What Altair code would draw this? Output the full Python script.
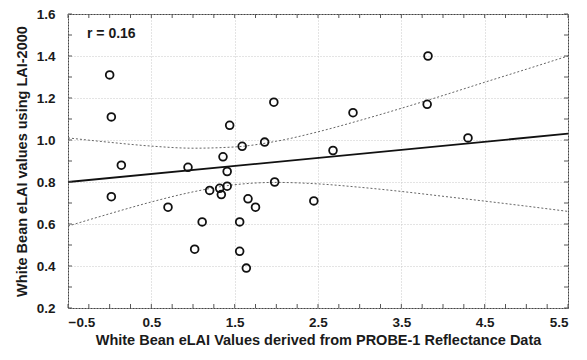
import altair as alt
import pandas as pd

# Scatter data
x_vals = [0.00, 0.02, 0.14, 0.02, 0.70, 0.94, 1.02, 1.11, 1.20, 1.32,
          1.34, 1.36, 1.41, 1.41, 1.44, 1.56, 1.56, 1.59, 1.64, 1.66,
          1.75, 1.86, 1.97, 1.98, 2.45, 2.68, 2.92, 3.81, 3.82, 4.30]
y_vals = [1.31, 1.11, 0.88, 0.73, 0.68, 0.87, 0.48, 0.61, 0.76, 0.77,
          0.74, 0.92, 0.85, 0.78, 1.07, 0.61, 0.47, 0.97, 0.39, 0.72,
          0.68, 0.99, 1.18, 0.80, 0.71, 0.95, 1.13, 1.17, 1.40, 1.01]

# Regression line endpoints
reg_x = [-0.5, 5.5]
reg_y = [0.80, 1.03]

# Confidence band
band_x = [-0.5, 0.0, 0.5, 1.0, 1.5, 2.0, 2.5, 3.0, 3.5, 4.0, 4.5, 5.0, 5.5]
band_upper = [1.010, 0.989, 0.971, 0.961, 0.967, 0.994, 1.039, 1.093, 1.151, 1.212, 1.275, 1.337, 1.400]
band_lower = [0.590, 0.649, 0.705, 0.753, 0.787, 0.798, 0.791, 0.775, 0.755, 0.732, 0.709, 0.685, 0.660]

x_grid = [-0.5, 0.5, 1.5, 2.5, 3.5, 4.5, 5.5]
y_grid = [0.2, 0.4, 0.6, 0.8, 1.0, 1.2, 1.4, 1.6]
x_minor = [-0.5 + 0.25 * i for i in range(25)]
y_minor = [round(0.2 + 0.1 * i, 2) for i in range(15)]

r_label = ["r = 0.16"]

W, H = 500, 294
FONT = "Liberation Sans"

pts = pd.DataFrame({"x": x_vals, "y": y_vals})
reg = pd.DataFrame({"x": reg_x, "y": reg_y})
band = pd.DataFrame({
    "x": band_x + band_x,
    "y": band_upper + band_lower,
    "side": ["upper"] * len(band_x) + ["lower"] * len(band_x),
})
xt = pd.DataFrame({"x": x_minor})
yt = pd.DataFrame({"y": y_minor})
lab = pd.DataFrame({"t": r_label})

xscale = alt.Scale(domain=[-0.5, 5.5], nice=False, zero=False)
yscale = alt.Scale(domain=[0.2, 1.6], nice=False, zero=False)

xaxis = alt.Axis(values=x_grid, format=".1f", title="White Bean eLAI Values derived from PROBE-1 Reflectance Data",
                 ticks=False, domain=False, grid=True, gridColor="#c8c8c8", gridDash=[1, 2],
                 labelFont=FONT, labelFontSize=13.5, labelFontWeight="bold", labelColor="#1a1a1a",
                 labelPadding=7, titleFont=FONT, titleFontSize=14.5, titleFontWeight="bold",
                 titleColor="#1a1a1a", titlePadding=5)
yaxis = alt.Axis(values=y_grid, format=".1f", title="White Bean eLAI values using LAI-2000",
                 ticks=False, domain=False, grid=True, gridColor="#c8c8c8", gridDash=[1, 2],
                 labelFont=FONT, labelFontSize=13.5, labelFontWeight="bold", labelColor="#1a1a1a",
                 labelPadding=13, titleFont=FONT, titleFontSize=14.5, titleFontWeight="bold",
                 titleColor="#1a1a1a", titlePadding=7)

points = alt.Chart(pts).mark_point(shape="circle", filled=False, size=60, strokeWidth=1.8,
                                   color="#111", opacity=1).encode(
    x=alt.X("x:Q", scale=xscale, axis=xaxis),
    y=alt.Y("y:Q", scale=yscale, axis=yaxis),
)

reg_line = alt.Chart(reg).mark_line(color="#111", strokeWidth=1.8).encode(
    x=alt.X("x:Q", scale=xscale), y=alt.Y("y:Q", scale=yscale))

band_lines = alt.Chart(band).mark_line(color="#666", strokeWidth=1, strokeDash=[2, 2],
                                       interpolate="monotone").encode(
    x=alt.X("x:Q", scale=xscale), y=alt.Y("y:Q", scale=yscale), detail="side:N")

tk = dict(color="#555", strokeWidth=1)
bottom_ticks = alt.Chart(xt).mark_rule(**tk).encode(
    x=alt.X("x:Q", scale=xscale), y=alt.value(H), y2=alt.value(H - 4))
top_ticks = alt.Chart(xt).mark_rule(**tk).encode(
    x=alt.X("x:Q", scale=xscale), y=alt.value(0), y2=alt.value(4))
left_ticks = alt.Chart(yt).mark_rule(**tk).encode(
    y=alt.Y("y:Q", scale=yscale), x=alt.value(0), x2=alt.value(4))
right_ticks = alt.Chart(yt).mark_rule(**tk).encode(
    y=alt.Y("y:Q", scale=yscale), x=alt.value(W), x2=alt.value(W - 4))

r_text = alt.Chart(lab).mark_text(font=FONT, fontSize=14, fontWeight="bold", color="#1a1a1a",
                                  align="left", baseline="middle").encode(
    text="t:N", x=alt.value(19), y=alt.value(20))

chart = alt.layer(band_lines, reg_line, points, bottom_ticks, top_ticks, left_ticks,
                  right_ticks, r_text).properties(
    width=W, height=H,
    autosize=alt.AutoSizeParams(type="none"),
    padding={"left": 60, "top": 6, "right": 11, "bottom": 50},
    background="white",
).configure_view(stroke="#444", strokeWidth=1)

chart.save("out.html", embed_options={"renderer": "svg", "actions": False})
